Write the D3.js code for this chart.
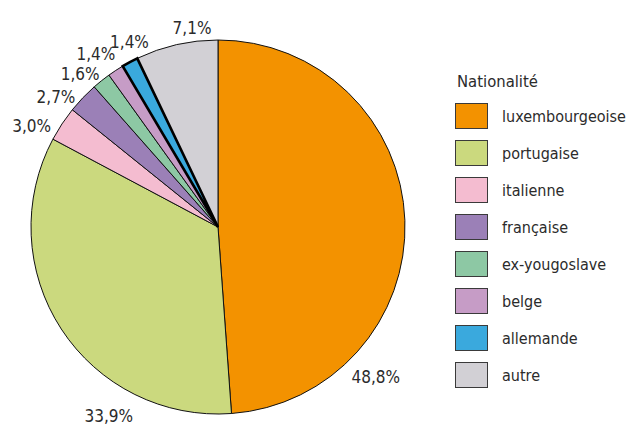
<!DOCTYPE html>
<html>
<head>
<meta charset="utf-8">
<script src="https://cdn.jsdelivr.net/npm/d3@7"></script>
<style>
  body { margin: 0; background: #fff; }
  text { font-family: "DejaVu Sans Condensed", "Liberation Sans Narrow", sans-serif; fill: #2b2b2b; }
</style>
</head>
<body>
<div id="chart"></div>
<script>
const w = 633;
const h = 427;

// data
const nationalities = ["luxembourgeoise", "portugaise", "italienne", "française", "ex-yougoslave", "belge", "allemande", "autre"];
const shares = [48.8, 33.9, 3.0, 2.7, 1.6, 1.4, 1.4, 7.1];
const shareLabels = ["48,8%", "33,9%", "3,0%", "2,7%", "1,6%", "1,4%", "1,4%", "7,1%"];
const colors = ["#f39200", "#cbd97e", "#f4bcd0", "#9b80b7", "#8dc8a4", "#c69cc6", "#3aa9dd", "#d2d0d5"];

const cx = 218, cy = 227, radius = 187;

// where along its slice each label sits (0 = start, 1 = end), and how far out
const labelPos = {
  "luxembourgeoise": { t: 0.76, r: 218 },
  "portugaise": { t: 0.28, r: 218 },
  "italienne": { t: 0.04, r: 212 },
  "française": { t: 0.0, r: 208 },
  "ex-yougoslave": { t: -0.1, r: 206 },
  "belge": { t: 0.1, r: 212 },
  "allemande": { t: 1.0, r: 205 },
  "autre": { t: 0.71, r: 201 }
};

const data = nationalities.map((n, i) => ({ name: n, value: shares[i], label: shareLabels[i], color: colors[i] }));

const svg = d3.select("#chart").append("svg")
  .attr("width", w)
  .attr("height", h);

const pie = d3.pie().value(d => d.value).sort(null);
const arcs = pie(data);

const arc = d3.arc().innerRadius(0).outerRadius(radius);

const g = svg.append("g").attr("transform", "translate(" + cx + "," + cy + ")");

g.selectAll("path.slice")
  .data(arcs)
  .enter()
  .append("path")
  .attr("class", "slice")
  .attr("d", arc)
  .attr("fill", d => d.data.color)
  .attr("stroke", "#111")
  .attr("stroke-width", 1)
  .attr("stroke-linejoin", "round");

// allemande is outlined heavier, draw it on top
const thick = arcs.filter(d => d.data.name === "allemande");
g.selectAll("path.hl")
  .data(thick)
  .enter()
  .append("path")
  .attr("class", "hl")
  .attr("d", arc)
  .attr("fill", d => d.data.color)
  .attr("stroke", "#000")
  .attr("stroke-width", 2.6)
  .attr("stroke-linejoin", "miter");

g.selectAll("text.pct")
  .data(arcs)
  .enter()
  .append("text")
  .attr("class", "pct")
  .attr("text-anchor", "middle")
  .attr("dy", "0.35em")
  .style("font-size", "17px")
  .attr("transform", d => {
    const p = labelPos[d.data.name];
    const a = d.startAngle + (d.endAngle - d.startAngle) * p.t;
    return "translate(" + (Math.sin(a) * p.r) + "," + (-Math.cos(a) * p.r) + ")";
  })
  .text(d => d.data.label);

// legend
const legend = svg.append("g").attr("transform", "translate(455,0)");

legend.append("text")
  .attr("x", 2)
  .attr("y", 87)
  .style("font-size", "16.5px")
  .text("Nationalité");

const ly = d3.scaleBand()
  .domain(nationalities)
  .range([103, 103 + 37 * 8])
  .paddingInner(0);

const items = legend.selectAll("g.item")
  .data(data)
  .enter()
  .append("g")
  .attr("class", "item")
  .attr("transform", d => "translate(0," + ly(d.name) + ")");

items.append("rect")
  .attr("x", 0.5)
  .attr("y", 0.5)
  .attr("width", 32)
  .attr("height", 25)
  .attr("fill", d => d.color)
  .attr("stroke", "#3a3a3a")
  .attr("stroke-width", 1);

items.append("text")
  .attr("x", 47)
  .attr("y", 13)
  .attr("dy", "0.35em")
  .style("font-size", "16px")
  .text(d => d.name);
</script>
</body>
</html>
